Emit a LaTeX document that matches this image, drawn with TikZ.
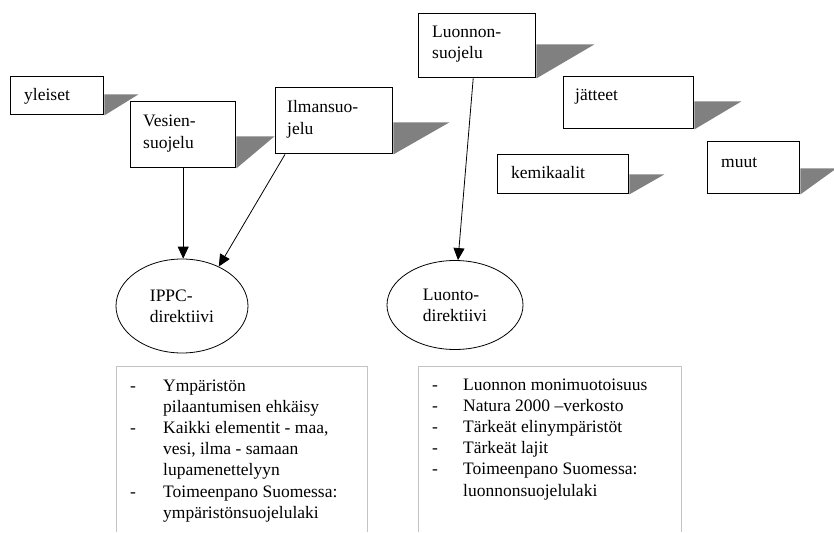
\documentclass[tikz,border=0pt]{standalone}
\usepackage{fontspec}
\setmainfont{Liberation Serif}
\usetikzlibrary{arrows.meta,shapes.geometric}
\definecolor{shadowgray}{RGB}{128,128,128}
\definecolor{framegray}{RGB}{195,195,195}
\newcommand{\boxshadow}[3]{\fill[shadowgray] (#1.south east) -- ++(0,-#2) -- ++(#3,0) -- cycle;}
\begin{document}
\begin{tikzpicture}[x = 1pt, y = -1pt,
	every node/.style = {font = \fontsize{17.5}{21.2}\selectfont},
	box/.style = {draw, line width = 1.4pt, anchor = north west, inner sep = 0pt},
	boxtext/.style = {anchor = base west, inner sep = 0pt},
	dir/.style = {draw, ellipse, line width = .8pt, align = left, inner sep = 0pt},
	arr/.style = {-{Triangle[width = 11pt, length = 12pt]}, line width = .8pt},
	frame/.style = {draw = framegray, line width = .8pt}]
	\useasboundingbox (0,0) rectangle (834,532);
	% boxes
	\node[box, minimum width = 93pt, minimum height = 38pt] (yleiset) at (10,76) {};
	\node[box, minimum width = 105pt, minimum height = 66pt] (vesien) at (130,101) {};
	\node[box, minimum width = 117pt, minimum height = 66pt] (ilman) at (275,87) {};
	\node[box, minimum width = 117pt, minimum height = 64pt] (luonnon) at (418,13) {};
	\node[box, minimum width = 130pt, minimum height = 52pt] (jatteet) at (563,76) {};
	\node[box, minimum width = 131pt, minimum height = 39pt] (kemikaalit) at (497,154) {};
	\node[box, minimum width = 92pt, minimum height = 52pt] (muut) at (707,141) {};
	\boxshadow{yleiset}{21}{34}
	\boxshadow{vesien}{32}{38}
	\boxshadow{ilman}{32}{56}
	\boxshadow{luonnon}{34}{58}
	\boxshadow{jatteet}{28}{47}
	\boxshadow{kemikaalit}{20}{35}
	\boxshadow{muut}{26}{36}
	\node[boxtext] (yleiset-t) at ([shift = {(14,24)}]yleiset.north west) {yleiset};
	\node[boxtext, align = left] (vesien-t) at ([shift = {(13,47)}]vesien.north west) {Vesien-\\suojelu};
	\node[boxtext, align = left] (ilman-t) at ([shift = {(12,47)}]ilman.north west) {Ilmansuo-\\jelu};
	\node[boxtext, align = left] (luonnon-t) at ([shift = {(14,46)}]luonnon.north west) {Luonnon-\\suojelu};
	\node[boxtext] (jatteet-t) at ([shift = {(12,24)}]jatteet.north west) {jätteet};
	\node[boxtext] (kemikaalit-t) at ([shift = {(14,24)}]kemikaalit.north west) {kemikaalit};
	\node[boxtext] (muut-t) at ([shift = {(14,26)}]muut.north west) {muut};
	% directives
	\node[dir, minimum width = 132pt, minimum height = 94pt] (ippc) at (182,306) {IPPC-\\direktiivi};
	\node[dir, minimum width = 136pt, minimum height = 89pt] (luonto) at (455,305) {Luonto-\\direktiivi};
	\draw[arr] (vesien.south) -- (vesien.south |- ippc.north);
	\draw[arr] ([xshift = 10pt]ilman.south west) -- (ippc.47);
	\draw[arr] ([xshift = -4pt]luonnon.south) -- ([xshift = 3pt]luonto.north);
	% lists
	\draw[frame] (116,532) |- (367,366) -- (367,532);
	\draw[frame] (418,532) |- (681,366) -- (681,532);
	\node[boxtext] (ippc-list) at (130,391) {\begin{tabular}[t]{@{}p{33pt}@{}l@{}}
		- & Ympäristön\\
		  & pilaantumisen ehkäisy\\
		- & Kaikki elementit - maa,\\
		  & vesi, ilma - samaan\\
		  & lupamenettelyyn\\
		- & Toimeenpano Suomessa:\\
		  & ympäristönsuojelulaki
	\end{tabular}};
	\node[boxtext] (luonto-list) at (432,390) {\begin{tabular}[t]{@{}p{31pt}@{}l@{}}
		- & Luonnon monimuotoisuus\\
		- & Natura 2000 –verkosto\\
		- & Tärkeät elinympäristöt\\
		- & Tärkeät lajit\\
		- & Toimeenpano Suomessa:\\
		  & luonnonsuojelulaki
	\end{tabular}};
\end{tikzpicture}
\end{document}
